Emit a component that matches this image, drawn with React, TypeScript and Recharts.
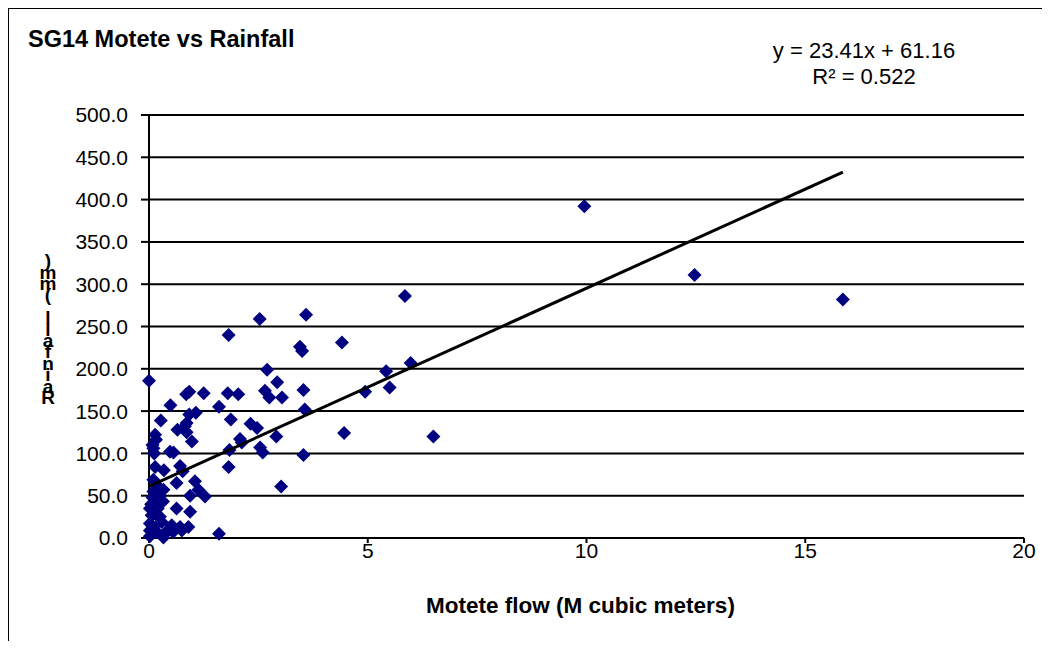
import { ScatterChart, Scatter, XAxis, YAxis, CartesianGrid } from 'recharts'

// Motete flow (M cubic meters) vs rainfall (mm)
const flow = [
  9.95, 12.47, 15.86, 6.5, 5.98, 5.85, 5.5, 5.42, 4.94, 4.41, 4.46,
  3.59, 3.45, 3.5, 3.53, 3.56, 3.53, 3.02, 2.93, 2.91, 2.7, 2.65, 2.75, 3.04,
  2.53, 2.47, 2.32, 2.54, 2.6, 1.82, 1.8, 2.04, 1.87, 2.08, 2.12, 1.84, 1.82,
  1.6, 1.6,
  0.0, 0.85, 0.92, 1.25, 0.49, 1.07, 0.92, 0.27, 0.86, 0.82, 0.65, 0.86, 0.14,
  0.16, 0.98, 0.08, 0.1, 0.48, 0.56, 0.14, 0.34, 0.71, 0.77, 0.1, 0.63, 1.05,
  0.21, 0.33, 1.13, 0.1, 1.28, 0.94, 0.14, 0.32, 0.63, 0.94, 0.02, 0.06, 0.25,
  0.02, 0.29, 0.52, 0.71, 0.9, 0.02, 0.18, 0.37, 0.55, 0.75, 0.02, 0.33, 0.1,
  0.2, 0.08, 0.15, 0.45, 0.05, 0.25, 0.12,
]
const rain = [
  392, 311, 282, 120, 207, 286, 178, 197, 173, 231, 124,
  264, 226, 221, 175, 152, 98, 61, 184, 120, 199, 174, 166, 166,
  259, 130, 135, 107, 101, 240, 171, 170, 140, 117, 113, 104, 84,
  155, 5,
  186, 170, 173, 171, 157, 148, 146, 139, 136, 132, 128, 125, 122,
  116, 114, 110, 106, 102, 101, 84, 80, 85, 79, 69, 65, 67,
  61, 57, 57, 55, 49, 50, 45, 43, 35, 31, 35, 27, 25,
  17, 19, 15, 13, 13, 9, 7, 6, 7, 9, 2, 0.5, 13,
  35, 48, 28, 10, 40, 50, 100,
]

const slope = 23.41
const intercept = 61.16
const rSquared = 0.522

const xTicks = [0, 5, 10, 15, 20]
const yTicks = [0, 50, 100, 150, 200, 250, 300, 350, 400, 450, 500]

const title = 'SG14 Motete vs Rainfall'
const xLabel = 'Motete flow (M cubic meters)'
const yLabel = 'Rainfall (mm)'

const points = flow.map((x, i) => ({ x, y: rain[i] }))
const xMin = Math.min(...flow)
const xMax = Math.max(...flow)
const trend = [xMin, xMax].map(x => ({ x, y: slope * x + intercept }))

const font = '"Liberation Sans", Arial, sans-serif'

const Diamond = (props: any) => {
  const { cx, cy } = props
  const r = 7
  return (
    <polygon
      points={`${cx},${cy - r} ${cx + r},${cy} ${cx},${cy + r} ${cx - r},${cy}`}
      fill="#000080"
    />
  )
}

export default function App() {
  const W = 1041
  const H = 632
  // stacked letters, first letter at the bottom like the original
  const charX = yLabel.split('').map(() => 39).join(' ')
  const charY = yLabel.split('').map((_, i) => 395 - i * 11.4).join(' ')

  return (
    <div
      style={{
        position: 'relative',
        width: W,
        height: H,
        borderLeft: '1px solid #000',
        borderTop: '1px solid #000',
        background: '#fff',
        fontFamily: font,
      }}
    >
      <ScatterChart
        width={W}
        height={H}
        margin={{ top: 106, right: 26, left: 0, bottom: 23 }}
      >
        <CartesianGrid vertical={false} stroke="#000" strokeWidth={2} />
        <XAxis
          type="number"
          dataKey="x"
          domain={[0, 20]}
          ticks={xTicks}
          height={80}
          tickSize={5}
          tickMargin={0}
          axisLine={{ stroke: '#000', strokeWidth: 2 }}
          tickLine={{ stroke: '#000', strokeWidth: 2 }}
          tick={{ fill: '#000', fontSize: 21, fontFamily: font }}
          label={{
            value: xLabel,
            position: 'insideBottom',
            offset: 5,
            dx: -6,
            fill: '#000',
            fontSize: 22.5,
            fontWeight: 'bold',
            fontFamily: font,
          }}
        />
        <YAxis
          type="number"
          dataKey="y"
          domain={[0, 500]}
          ticks={yTicks}
          width={140}
          tickSize={8}
          tickMargin={13}
          axisLine={{ stroke: '#000', strokeWidth: 2 }}
          tickLine={{ stroke: '#000', strokeWidth: 2 }}
          tick={{ fill: '#000', fontSize: 21, fontFamily: font }}
          tickFormatter={(v: number) => v.toFixed(1)}
        />
        <Scatter data={points} shape={Diamond} isAnimationActive={false} />
        <Scatter
          data={trend}
          line={{ stroke: '#000', strokeWidth: 3 }}
          shape={() => <g />}
          isAnimationActive={false}
        />
      </ScatterChart>

      <svg
        width={W}
        height={H}
        style={{ position: 'absolute', left: 0, top: 0, pointerEvents: 'none' }}
      >
        <text x={19} y={38} fontSize={23.5} fontWeight="bold" fontFamily={font} fill="#000">
          {title}
        </text>
        <text x={855} y={49} fontSize={22} textAnchor="middle" fontFamily={font} fill="#000">
          {`y = ${slope}x + ${intercept}`}
        </text>
        <text x={855} y={75} fontSize={22} textAnchor="middle" fontFamily={font} fill="#000">
          {`R² = ${rSquared}`}
        </text>
        <text
          x={charX}
          y={charY}
          fontSize={19}
          fontWeight="bold"
          textAnchor="middle"
          fontFamily={font}
          fill="#000"
        >
          {yLabel}
        </text>
      </svg>
    </div>
  )
}
